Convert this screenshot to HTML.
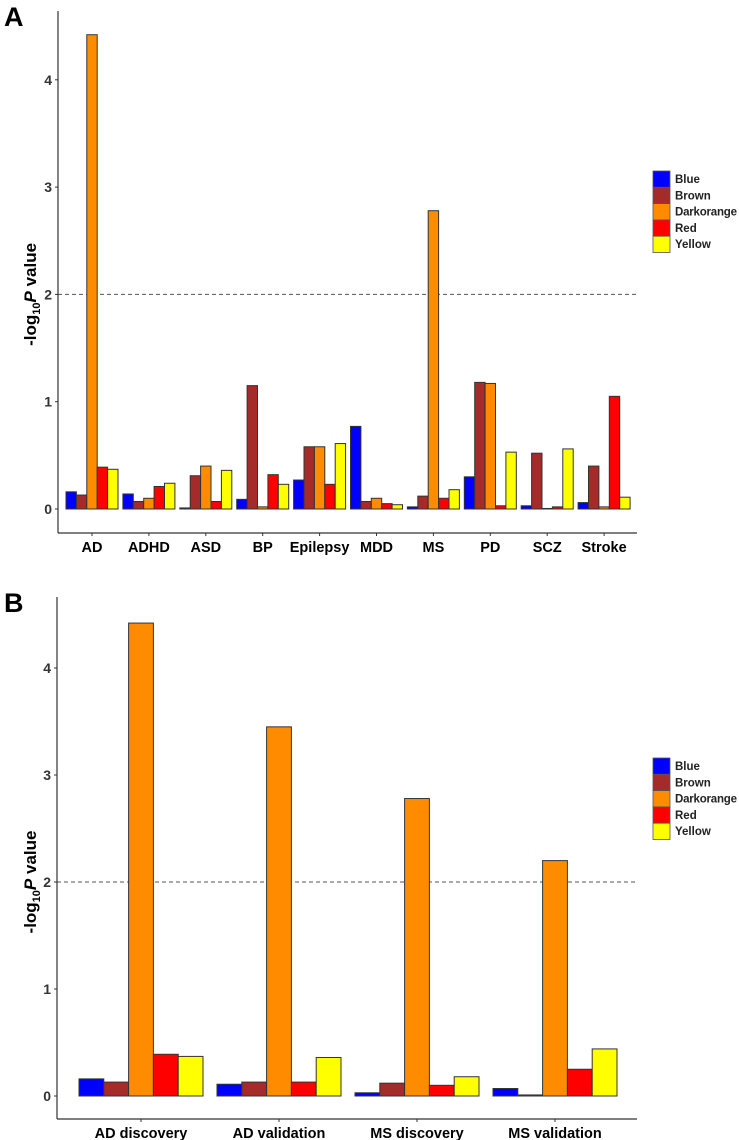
<!DOCTYPE html>
<html><head><meta charset="utf-8"><style>
html,body{margin:0;padding:0;background:#fff;}
svg{display:block;font-family:"Liberation Sans",Arial,sans-serif;}
</style></head><body>
<svg id="fig" width="739" height="1140" viewBox="0 0 739 1140" xmlns="http://www.w3.org/2000/svg"></svg>
<script>
const seriesNames = ["Blue","Brown","Darkorange","Red","Yellow"];
const seriesColors = ["#0000ff","#a52a2a","#ff8c00","#ff0000","#ffff00"];
const yTicks = [0,1,2,3,4];
const threshold = 2;
const catsA = ["AD","ADHD","ASD","BP","Epilepsy","MDD","MS","PD","SCZ","Stroke"];
const blueA = [0.16,0.14,0.01,0.09,0.27,0.77,0.02,0.30,0.03,0.06];
const brownA = [0.13,0.07,0.31,1.15,0.58,0.07,0.12,1.18,0.52,0.40];
const orangeA = [4.42,0.10,0.40,0.02,0.58,0.10,2.78,1.17,0.005,0.02];
const redA = [0.39,0.21,0.07,0.32,0.23,0.05,0.10,0.03,0.02,1.05];
const yellowA = [0.37,0.24,0.36,0.23,0.61,0.04,0.18,0.53,0.56,0.11];
const catsB = ["AD discovery","AD validation","MS discovery","MS validation"];
const blueB = [0.16,0.11,0.03,0.07];
const brownB = [0.13,0.13,0.12,0.01];
const orangeB = [4.42,3.45,2.78,2.20];
const redB = [0.39,0.13,0.10,0.25];
const yellowB = [0.37,0.36,0.18,0.44];

const NS="http://www.w3.org/2000/svg";
const svg=document.getElementById('fig');
function mk(tag,attrs,parent){const e=document.createElementNS(NS,tag);for(const k in attrs)e.setAttribute(k,attrs[k]);(parent||svg).appendChild(e);return e;}

function panel(cfg){
  const g=mk('g',{});
  
  
  const y=v=>cfg.y0-v*cfg.unit;
  const xc=i=>cfg.c0+i*cfg.step;
  const L=mk('text',{x:4,y:cfg.letterY,'font-size':27,'font-weight':'bold',fill:'#000'},g);
  L.textContent=cfg.letter;
  
  
  const th=mk('line',{x1:cfg.xL,x2:cfg.xR,y1:y(threshold),y2:y(threshold),stroke:'#555','stroke-width':1,'stroke-dasharray':'4,3'},g);
  
  
  const bw=cfg.bw;
  cfg.series.forEach((arr,s)=>{
    arr.forEach((v,i)=>{
      const x=xc(i)-2.5*bw+s*bw;
      const r=mk('rect',{x:x,y:y(v),width:bw,height:Math.max(v*cfg.unit,0.5),fill:seriesColors[s],stroke:'#333','stroke-width':1},g);
      
      
    });
  });
  const ya=mk('line',{x1:cfg.xL,x2:cfg.xL,y1:cfg.yTop,y2:cfg.yAxis,stroke:'#333','stroke-width':1.2},g);
  
  
  const xa=mk('line',{x1:cfg.xL,x2:cfg.xR,y1:cfg.yAxis,y2:cfg.yAxis,stroke:'#333','stroke-width':1.2},g);
  
  
  yTicks.forEach(t=>{
    mk('line',{x1:cfg.xL-3,x2:cfg.xL,y1:y(t),y2:y(t),stroke:'#333'},g);
    const tx=mk('text',{x:cfg.xL-6,y:y(t)+5,'text-anchor':'end','font-size':14,'font-weight':'bold',fill:'#333'},g);
    tx.textContent=t;
    
    
  });
  cfg.cats.forEach((c,i)=>{
    mk('line',{x1:xc(i),x2:xc(i),y1:cfg.yAxis,y2:cfg.yAxis+3,stroke:'#333'},g);
    const tx=mk('text',{x:xc(i),y:cfg.yAxis+19,'text-anchor':'middle','font-size':14.5,'font-weight':'bold',fill:'#000'},g);
    tx.textContent=c;
    
    
  });
  const yt=mk('text',{transform:`translate(36,${y(2)}) rotate(-90)`,'text-anchor':'middle','font-size':17,'font-weight':'bold',fill:'#000'},g);
  
  
  yt.innerHTML='-log<tspan font-size="11" dy="4">10</tspan><tspan dy="-4" font-style="italic">P</tspan>  value';
  const lg=mk('g',{},g);
  
  
  seriesNames.forEach((n,s)=>{
    const yy=cfg.legTop+s*16.3;
    const e=mk('g',{},lg);
    
    
    mk('rect',{x:653,y:yy,width:17,height:16.3,fill:seriesColors[s],stroke:'#555','stroke-width':0.8},e);
    const t=mk('text',{x:675,y:yy+12,'font-size':11.5,'font-weight':'bold',fill:'#222',textLength:n.length>6?62:null},e);
    if(n.length<=6)t.removeAttribute('textLength');
    t.textContent=n;
  });
}

panel({name:'panel-a',letter:'A',letterY:26,cats:catsA,series:[blueA,brownA,orangeA,redA,yellowA],
  y0:509,unit:107.3,c0:92,step:56.9,bw:10.4,xL:58,xR:637,yTop:11,yAxis:533,legTop:171});
panel({name:'panel-b',letter:'B',letterY:612,cats:catsB,series:[blueB,brownB,orangeB,redB,yellowB],
  y0:1096,unit:107,c0:141,step:138,bw:24.8,xL:57,xR:637,yTop:597,yAxis:1119,legTop:758});
</script>
</body></html>
